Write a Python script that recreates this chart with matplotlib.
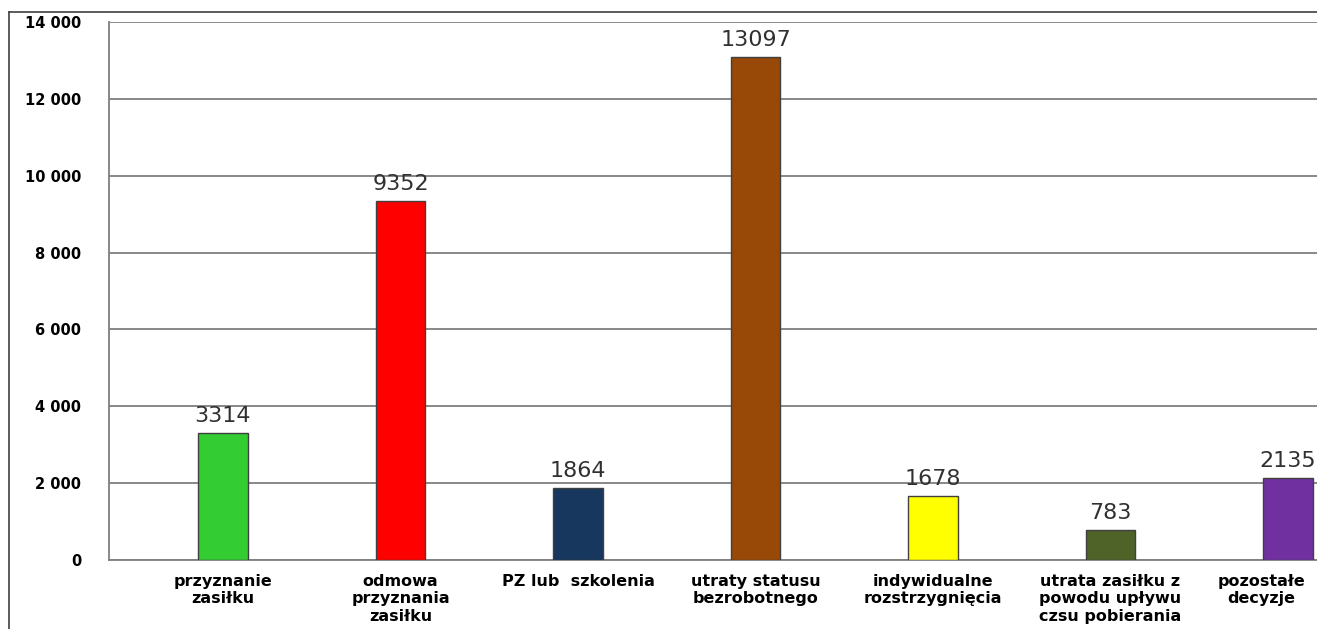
import matplotlib.pyplot as plt
from matplotlib.lines import Line2D
from matplotlib.ticker import FuncFormatter

# Data
categories = [
    "przyznanie\nzasiłku",
    "odmowa\nprzyznania\nzasiłku",
    "PZ lub  szkolenia",
    "utraty statusu\nbezrobotnego",
    "indywidualne\nrozstrzygnięcia",
    "utrata zasiłku z\npowodu upływu\nczsu pobierania",
    "pozostałe\ndecyzje",
]
values = [3314, 9352, 1864, 13097, 1678, 783, 2135]
colors = ["#33CC33", "#FF0000", "#17375E", "#984807", "#FFFF00", "#4F6228", "#7030A0"]
yticks = [0, 2000, 4000, 6000, 8000, 10000, 12000, 14000]

W, H = 1317, 629
fig = plt.figure(figsize=(W / 100, H / 100), dpi=100)

# axes: left at x=109, top at y=22, bottom at y=560; right edge runs off the figure
ax_left = 109 / W
ax_bottom = 1 - 560 / H
ax_height = (560 - 22) / H
ax_width = (1402 - 109) / W
ax = fig.add_axes([ax_left, ax_bottom, ax_width, ax_height])

x = list(range(len(values)))
ax.bar(x, values, width=0.28, color=colors, edgecolor="#404040", linewidth=1, zorder=3)

for xi, v in zip(x, values):
    ax.text(xi, v + 180, str(v), ha="center", va="bottom", fontsize=16,
            color="#303030", zorder=4)

ax.set_xlim(-0.642, 6.642)
ax.set_ylim(0, 14000)
ax.set_yticks(yticks)
ax.yaxis.set_major_formatter(FuncFormatter(lambda v, p: f"{int(v):,}".replace(",", " ")))
for lbl in ax.get_yticklabels():
    lbl.set_fontweight("bold")
    lbl.set_fontsize(10.5)

# category labels drawn under the bars; the last one is nudged left to stay in view
ax.set_xticks(x)
ax.set_xticklabels([])
for xi, cat in zip(x, categories):
    dx = -19 if xi == len(categories) - 1 else 0
    ax.annotate(cat, xy=(xi, 0), xycoords=("data", "axes fraction"),
                xytext=(dx, -10), textcoords="offset points",
                ha="center", va="top", fontsize=11.5, fontweight="bold",
                linespacing=1.2, annotation_clip=False)

ax.tick_params(axis="y", length=0, pad=20)
ax.tick_params(axis="x", length=0)
ax.grid(axis="y", color="#7F7F7F", linewidth=1.3, zorder=0)
for side in ["top", "right"]:
    ax.spines[side].set_visible(False)
ax.spines["left"].set_color("#7F7F7F")
ax.spines["left"].set_linewidth(1.3)
ax.spines["bottom"].set_color("#7F7F7F")
ax.spines["bottom"].set_linewidth(1.3)

# outer chart frame (top and left edges visible in the crop)
fig.add_artist(Line2D([9 / W, 9 / W], [0, 1 - 12 / H], color="#404040", linewidth=1.2))
fig.add_artist(Line2D([9 / W, 1], [1 - 12 / H, 1 - 12 / H], color="#404040", linewidth=1.2))

fig.savefig("out.png", dpi=100)
